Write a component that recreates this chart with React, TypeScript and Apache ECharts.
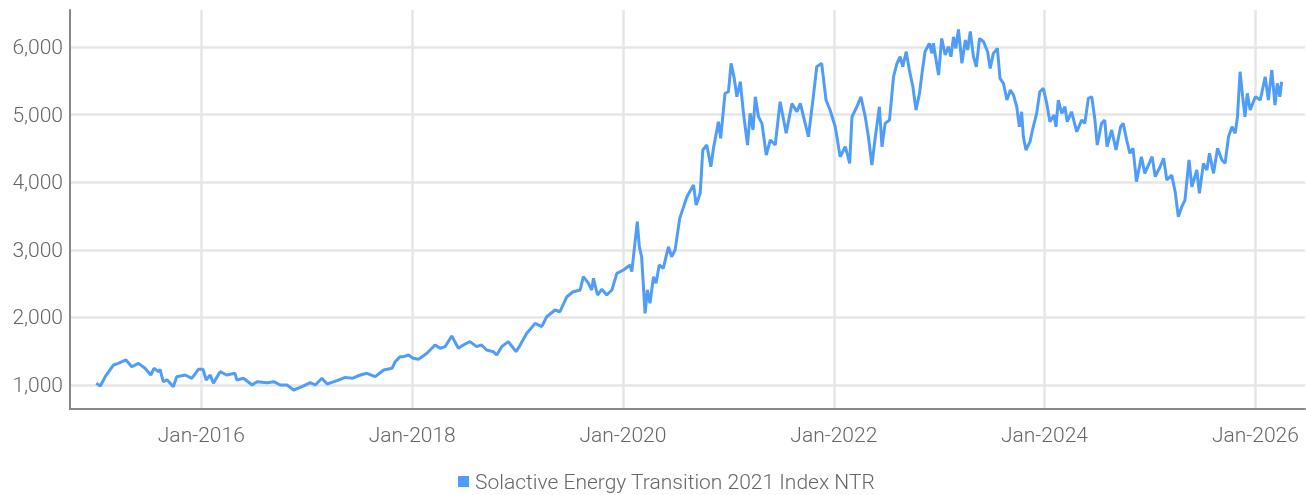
import React, { useEffect, useRef } from "react";
import * as echarts from "echarts";

const seriesName = "Solactive Energy Transition 2021 Index NTR";

const dates: string[] = [
  "2015-01-02","2015-01-16","2015-02-02","2015-03-03","2015-03-19","2015-04-15","2015-05-05","2015-05-28","2015-06-20","2015-07-10",
  "2015-07-21","2015-08-05","2015-08-11","2015-08-22","2015-09-05","2015-09-26","2015-10-08","2015-11-06","2015-11-29","2015-12-22",
  "2016-01-07","2016-01-18","2016-02-01","2016-02-12","2016-03-06","2016-03-29","2016-04-27","2016-05-03","2016-05-26","2016-06-25",
  "2016-07-12","2016-08-16","2016-09-08","2016-10-01","2016-10-24","2016-11-16","2016-12-09","2017-01-13","2017-01-30","2017-02-22",
  "2017-03-12","2017-04-15","2017-05-14","2017-06-07","2017-07-05","2017-07-28","2017-08-26","2017-09-24","2017-10-23","2017-11-03",
  "2017-11-20","2017-12-02","2017-12-19","2018-01-04","2018-01-23","2018-02-21","2018-03-21","2018-04-08","2018-04-25","2018-05-18",
  "2018-06-10","2018-06-27","2018-07-20","2018-08-12","2018-08-29","2018-09-16","2018-10-09","2018-10-21","2018-11-07","2018-11-30",
  "2018-12-27","2019-01-10","2019-02-02","2019-03-03","2019-03-26","2019-04-12","2019-05-11","2019-05-28","2019-06-21","2019-07-13",
  "2019-08-06","2019-08-17","2019-09-04","2019-09-15","2019-09-21","2019-10-05","2019-10-20","2019-11-06","2019-11-24","2019-12-11",
  "2020-01-03","2020-01-26","2020-02-01","2020-02-20","2020-02-27","2020-03-06","2020-03-18","2020-03-26","2020-04-04","2020-04-16",
  "2020-04-25","2020-05-06","2020-05-20","2020-06-07","2020-06-18","2020-06-30","2020-07-16","2020-08-10","2020-09-02","2020-09-11",
  "2020-09-25","2020-10-04","2020-10-18","2020-11-01","2020-11-10","2020-11-27","2020-12-05","2020-12-20","2021-01-01","2021-01-10",
  "2021-01-21","2021-01-30","2021-02-11","2021-02-22","2021-03-08","2021-03-17","2021-03-27","2021-04-04","2021-04-15","2021-04-27",
  "2021-05-12","2021-05-26","2021-06-12","2021-06-29","2021-07-20","2021-08-09","2021-08-26","2021-09-07","2021-10-05","2021-10-22",
  "2021-11-03","2021-11-20","2021-12-05","2021-12-19","2022-01-06","2022-01-23","2022-02-10","2022-02-25","2022-03-05","2022-03-22",
  "2022-04-05","2022-04-20","2022-05-01","2022-05-13","2022-05-25","2022-06-08","2022-06-17","2022-06-28","2022-07-13","2022-07-27",
  "2022-08-08","2022-08-19","2022-08-28","2022-09-09","2022-09-20","2022-10-02","2022-10-13","2022-10-25","2022-11-02","2022-11-13",
  "2022-11-28","2022-12-07","2022-12-12","2022-12-30","2023-01-10","2023-01-22","2023-02-02","2023-02-11","2023-02-20","2023-02-28",
  "2023-03-09","2023-03-21","2023-04-02","2023-04-10","2023-04-19","2023-04-30","2023-05-10","2023-05-21","2023-06-04","2023-06-18",
  "2023-06-27","2023-07-08","2023-07-22","2023-07-31","2023-08-12","2023-08-24","2023-09-05","2023-09-16","2023-09-27","2023-10-06",
  "2023-10-14","2023-10-20","2023-10-29","2023-11-12","2023-11-22","2023-12-05","2023-12-16","2023-12-28","2024-01-09","2024-01-20",
  "2024-02-03","2024-02-10","2024-02-18","2024-03-01","2024-03-12","2024-03-20","2024-04-04","2024-04-22","2024-05-09","2024-05-20",
  "2024-06-01","2024-06-13","2024-06-24","2024-07-02","2024-07-17","2024-07-28","2024-08-05","2024-08-21","2024-09-05","2024-09-21",
  "2024-09-30","2024-10-12","2024-10-23","2024-11-03","2024-11-15","2024-12-02","2024-12-14","2025-01-08","2025-01-19","2025-02-05",
  "2025-02-17","2025-02-28","2025-03-17","2025-03-29","2025-04-09","2025-04-21","2025-05-02","2025-05-16","2025-05-26","2025-06-12",
  "2025-06-21","2025-07-05","2025-07-17","2025-07-26","2025-08-09","2025-08-23","2025-09-07","2025-09-18","2025-09-30","2025-10-12",
  "2025-10-23","2025-10-31","2025-11-09","2025-11-18","2025-11-26","2025-12-04","2025-12-14","2026-01-01","2026-01-18","2026-02-04",
  "2026-02-15","2026-02-27","2026-03-10","2026-03-18","2026-03-27","2026-04-02"
];

const values: number[] = [
  1025,985,1123,1296,1320,1370,1270,1320,1247,1148,
  1247,1197,1232,1049,1074,975,1123,1148,1099,1232,
  1232,1074,1148,1025,1197,1148,1173,1074,1099,1000,
  1049,1034,1049,1000,1000,926,965,1034,1000,1099,
  1015,1064,1113,1099,1148,1173,1123,1222,1247,1345,
  1419,1419,1444,1395,1380,1469,1592,1543,1567,1725,
  1543,1592,1641,1567,1592,1518,1493,1444,1567,1641,
  1493,1592,1765,1912,1863,2010,2109,2084,2306,2380,
  2405,2602,2504,2405,2578,2331,2415,2331,2405,2652,
  2701,2775,2676,3415,3045,2897,2060,2405,2208,2602,
  2504,2775,2726,3045,2897,2997,3465,3785,3958,3662,
  3835,4476,4550,4229,4501,4894,4649,5314,5338,5758,
  5536,5264,5486,5018,4550,5018,4772,5264,4968,4870,
  4401,4624,4550,5190,4723,5165,5042,5165,4672,5264,
  5708,5758,5215,5067,4820,4377,4525,4279,4968,5116,
  5264,4968,4672,4254,4672,5116,4525,4870,4919,5560,
  5758,5856,5708,5930,5659,5412,5067,5314,5585,5930,
  6054,5906,6054,5585,6126,5881,6004,5856,6150,5980,
  6259,5758,6102,5955,6229,5856,5708,6126,6077,5930,
  5683,5906,5980,5536,5462,5215,5363,5289,5116,4820,
  5042,4672,4476,4599,4797,5018,5338,5388,5165,4894,
  4993,4820,5215,5018,5116,4894,5042,4746,4919,4870,
  5240,5264,4919,4550,4870,4919,4525,4772,4476,4820,
  4870,4624,4427,4501,4007,4377,4131,4377,4081,4229,
  4353,4032,4106,3859,3489,3637,3736,4328,3933,4180,
  3835,4279,4180,4427,4131,4501,4328,4279,4672,4820,
  4723,4968,5634,5264,4968,5314,5067,5264,5215,5560,
  5215,5659,5141,5462,5264,5486
];

const yTickValues: number[] = [1000, 2000, 3000, 4000, 5000, 6000];
const xTickYears: number[] = [2016, 2018, 2020, 2022, 2024, 2026];

export default function App() {
  const ref = useRef<HTMLDivElement>(null);
  useEffect(() => {
    if (!ref.current) return;
    const chart = echarts.init(ref.current, undefined, { renderer: "svg" });
    const font = "Roboto, 'Noto Sans', sans-serif";
    const xTicks = xTickYears.map((y) => Date.UTC(y, 0, 1));
    chart.setOption({
      animation: false,
      textStyle: { fontFamily: font },
      grid: { left: 70, right: 1, top: 10, bottom: 86, containLabel: false },
      legend: {
        show: true,
        top: 471,
        left: 458,
        padding: 0,
        icon: "rect",
        itemWidth: 11,
        itemHeight: 11,
        itemGap: 10,
        textStyle: { fontSize: 21, color: "#666", fontFamily: font, fontWeight: 300, padding: [0, 0, 0, 1] },
        data: [seriesName],
      },
      xAxis: {
        type: "value",
        min: Date.UTC(2014, 9, 3),
        max: Date.UTC(2026, 5, 22),
        axisLine: { show: true, lineStyle: { color: "#888", width: 2 } },
        axisTick: { show: false, customValues: xTicks },
        axisLabel: {
          customValues: xTicks,
          margin: 15,
          fontSize: 21,
          color: "#666",
          fontFamily: font,
          fontWeight: 300,
          formatter: (v: number) => "Jan-" + new Date(v).getUTCFullYear(),
        },
        splitLine: { show: true, lineStyle: { color: "#e6e6e6", width: 2.5 } },
      },
      yAxis: {
        type: "value",
        min: 645,
        max: 6547,
        axisLine: { show: true, lineStyle: { color: "#888", width: 2 } },
        axisTick: { show: false, customValues: yTickValues },
        axisLabel: {
          customValues: yTickValues,
          margin: 7,
          fontSize: 21,
          color: "#666",
          fontFamily: font,
          fontWeight: 300,
          formatter: (v: number) => v.toLocaleString("en-US"),
        },
        splitLine: { show: true, lineStyle: { color: "#e6e6e6", width: 2.5 } },
      },
      series: [
        {
          name: seriesName,
          type: "line",
          showSymbol: false,
          symbol: "none",
          data: dates.map((d, i) => [Date.parse(d + "T00:00:00Z"), values[i]]),
          lineStyle: { color: "#4f9df8", width: 3 },
          itemStyle: { color: "#4f9df8" },
        },
      ],
    });
    return () => chart.dispose();
  }, []);
  return (
    <div
      ref={ref}
      style={{ position: "fixed", left: 0, top: 0, width: 1306, height: 495 }}
    />
  );
}
